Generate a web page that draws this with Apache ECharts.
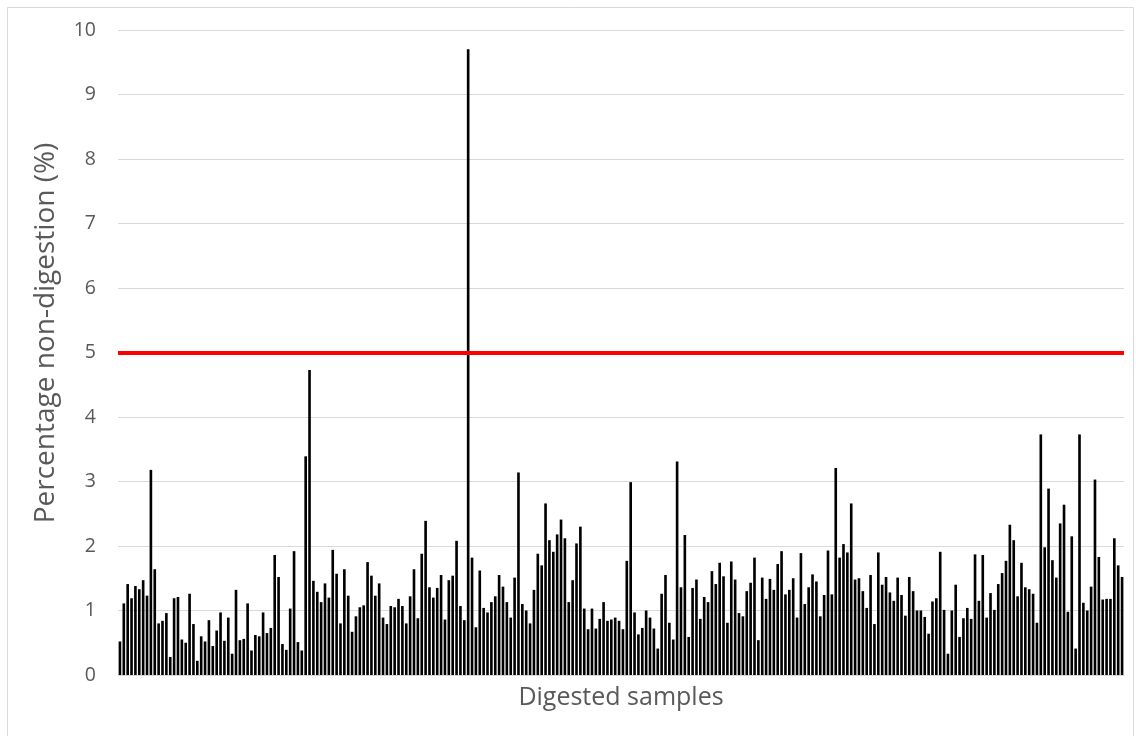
<!DOCTYPE html>
<html>
<head>
<meta charset="utf-8">
<script src="https://cdn.jsdelivr.net/npm/echarts@6/dist/echarts.min.js"></script>
<style>
html,body{margin:0;padding:0;background:#fff;}
#chart{width:1136px;height:736px;}
</style>
</head>
<body>
<div id="chart"></div>
<script>
// Data
const values = [
0.52,1.11,1.41,1.19,1.38,1.33,1.47,1.23,3.18,1.64,
0.80,0.84,0.96,0.28,1.19,1.21,0.55,0.50,1.26,0.79,
0.22,0.60,0.52,0.85,0.45,0.69,0.97,0.53,0.89,0.33,
1.32,0.54,0.56,1.11,0.38,0.62,0.60,0.97,0.65,0.73,
1.86,1.52,0.48,0.39,1.03,1.92,0.51,0.38,3.39,4.73,
1.46,1.29,1.13,1.42,1.20,1.94,1.57,0.80,1.64,1.23,
0.67,0.91,1.05,1.08,1.75,1.54,1.23,1.42,0.89,0.79,
1.07,1.05,1.18,1.07,0.80,1.22,1.64,0.88,1.88,2.39,
1.36,1.20,1.35,1.55,0.86,1.47,1.54,2.08,1.07,0.85,
9.70,1.82,0.74,1.62,1.04,0.97,1.13,1.22,1.55,1.37,
1.13,0.89,1.51,3.14,1.10,1.00,0.80,1.32,1.88,1.70,
2.66,2.09,1.91,2.18,2.41,2.12,1.13,1.47,2.04,2.30,
1.03,0.71,1.03,0.72,0.87,1.13,0.84,0.86,0.89,0.84,
0.71,1.77,2.99,0.97,0.63,0.73,1.00,0.89,0.72,0.41,
1.26,1.55,0.81,0.55,3.31,1.36,2.17,0.59,1.35,1.48,
0.87,1.21,1.13,1.61,1.41,1.74,1.53,0.81,1.76,1.48,
0.96,0.91,1.30,1.43,1.82,0.54,1.51,1.18,1.49,1.32,
1.72,1.92,1.25,1.32,1.50,0.89,1.89,1.10,1.36,1.56,
1.45,0.91,1.24,1.93,1.25,3.21,1.82,2.03,1.90,2.66,
1.48,1.50,1.30,1.04,1.55,0.79,1.90,1.40,1.52,1.28,
1.15,1.51,1.24,0.92,1.52,1.30,1.00,1.00,0.90,0.64,
1.14,1.19,1.91,1.01,0.33,1.00,1.40,0.59,0.88,1.04,
0.87,1.87,1.15,1.86,0.89,1.27,1.01,1.41,1.58,1.77,
2.33,2.09,1.22,1.74,1.36,1.33,1.26,0.81,3.73,1.98,
2.89,1.78,1.51,2.35,2.64,0.98,2.15,0.41,3.73,1.12,
1.00,1.37,3.03,1.83,1.17,1.18,1.18,2.12,1.70,1.52
];
const categories = values.map((v, i) => 'S' + (i + 1));
const threshold = 5;
const yTicks = [0,1,2,3,4,5,6,7,8,9,10];
const xTitle = 'Digested samples';
const yTitle = 'Percentage non-digestion (%)';

const chart = echarts.init(document.getElementById('chart'), null, {renderer: 'canvas'});
const textColor = '#595959';
const font = 'Open Sans';
chart.setOption({
  animation: false,
  backgroundColor: '#ffffff',
  graphic: [{
    type: 'rect',
    shape: {x: 7.5, y: 7.5, width: 1126, height: 740},
    style: {fill: 'none', stroke: '#d9d9d9', lineWidth: 1},
    silent: true
  }, {
    type: 'text',
    x: 46,
    y: 333,
    rotation: Math.PI / 2,
    silent: true,
    style: {
      text: yTitle,
      fill: textColor,
      font: '28px "Open Sans"',
      align: 'center',
      verticalAlign: 'middle'
    }
  }],
  grid: {left: 118, right: 12, top: 30, bottom: 61, containLabel: false},
  xAxis: {
    type: 'category',
    data: categories,
    name: xTitle,
    nameLocation: 'middle',
    nameGap: 10,
    nameTextStyle: {color: textColor, fontSize: 25, fontFamily: font, verticalAlign: 'top'},
    axisLine: {show: false},
    axisTick: {show: false},
    axisLabel: {show: false},
    splitLine: {show: false}
  },
  yAxis: {
    type: 'value',
    min: yTicks[0],
    max: yTicks[yTicks.length - 1],
    interval: 1,
    axisLine: {show: false},
    axisTick: {show: false},
    axisLabel: {color: textColor, fontSize: 19.5, fontFamily: font, margin: 22},
    splitLine: {lineStyle: {color: '#d9d9d9', width: 1}}
  },
  series: [{
    type: 'bar',
    data: values,
    barCategoryGap: '32%',
    itemStyle: {color: '#000000'},
    markLine: {
      silent: true,
      symbol: 'none',
      label: {show: false},
      lineStyle: {color: '#ff0000', width: 4, type: 'solid'},
      data: [{yAxis: threshold}]
    }
  }]
});
</script>
</body>
</html>
